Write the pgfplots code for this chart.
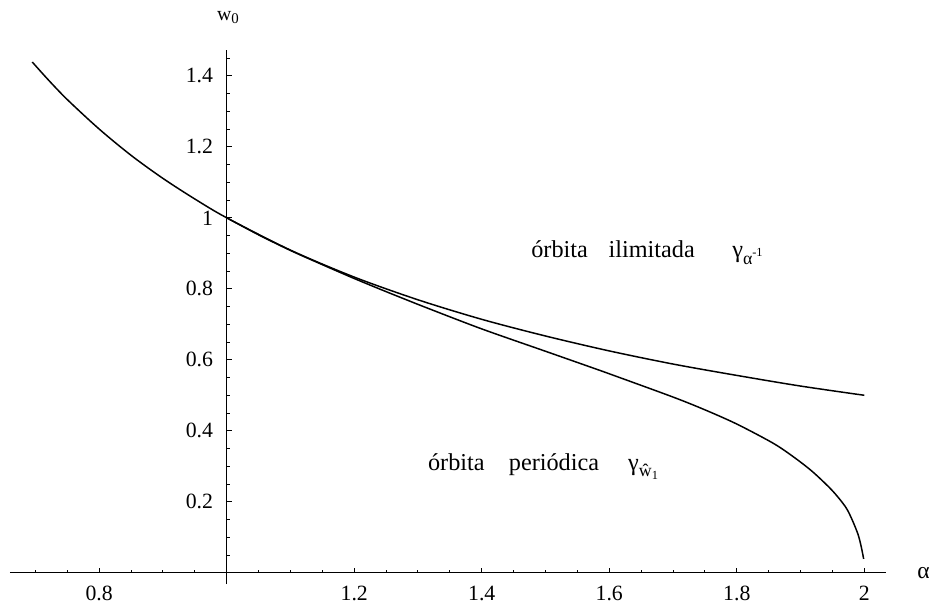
\documentclass[border=0pt]{standalone}
\usepackage{fontspec}
\setmainfont{Liberation Serif}
\usepackage{pgfplots}
\pgfplotsset{compat=1.18}

\begin{document}
\begin{tikzpicture}
\begin{axis}[
    scale only axis,
    width=354pt, height=216pt,
    xmin=0.660, xmax=2.034,
    ymin=-0.032, ymax=1.474,
    axis x line=middle,
    axis y line=left,
    axis y line shift=-87.6pt,
    axis line style={-, line width=0.45pt},
    xtick={0.8,1.2,1.4,1.6,1.8,2},
    minor xtick={0.7,0.75,0.85,0.9,0.95,1.05,1.1,1.15,1.25,1.3,1.35,1.45,1.5,1.55,1.65,1.7,1.75,1.85,1.9,1.95},
    ytick={0.2,0.4,0.6,0.8,1,1.2,1.4},
    minor ytick={0.05,0.1,0.15,0.25,0.3,0.35,0.45,0.5,0.55,0.65,0.7,0.75,0.85,0.9,0.95,1.05,1.1,1.15,1.25,1.3,1.35,1.45},
    xtick align=inside, ytick align=inside,
    major tick length=2pt, minor tick length=1.2pt,
    tick style={line width=0.4pt, black},
    /pgf/number format/assume math mode=true,
    tick label style={font=\fontsize{8.8}{10}\selectfont},
    xticklabel style={yshift=-2pt},
    yticklabel style={xshift=-2pt},
    clip=false,
]
% upper curve: orbita ilimitada
\addplot[black, line width=0.6pt, smooth] coordinates {
(0.695,1.439) (0.72,1.389) (0.75,1.333) (0.8,1.25) (0.85,1.176) (0.9,1.111)
(0.95,1.053) (1.0,1.0) (1.1,0.909) (1.2,0.833) (1.3,0.769) (1.4,0.714)
(1.5,0.667) (1.6,0.625) (1.7,0.588) (1.8,0.556) (1.9,0.526) (2.0,0.5)
};
% lower curve: orbita periodica
\addplot[black, line width=0.6pt, smooth] coordinates {
(1.0,1.0) (1.05,0.952) (1.1,0.908) (1.15,0.868) (1.2,0.829) (1.25,0.792)
(1.31,0.749) (1.4,0.687) (1.5,0.624) (1.576,0.576) (1.607,0.556) (1.7,0.495)
(1.75,0.459) (1.8,0.419) (1.856,0.366) (1.887,0.329) (1.918,0.286) (1.949,0.233)
(1.97,0.187) (1.98,0.153) (1.99,0.109) (1.995,0.075) (1.999,0.039)
};
\node[anchor=base west, inner sep=0pt, font=\fontsize{9.8}{11}\selectfont]
  at (axis cs:1.477,0.888)
  {órbita\hspace{0.85em}ilimitada\hspace{1.55em}γ\raisebox{-0.6ex}{\fontsize{7.2}{7}\selectfont α\raisebox{0.9ex}{\fontsize{5}{5}\selectfont -1}}};
\node[anchor=base west, inner sep=0pt, font=\fontsize{9.8}{11}\selectfont]
  at (axis cs:1.315,0.289)
  {órbita\hspace{1em}periódica\hspace{1.2em}γ\raisebox{-0.6ex}{\fontsize{7.2}{7}\selectfont ŵ\raisebox{-0.3ex}{\fontsize{5}{5}\selectfont 1}}};
\node[font=\fontsize{8}{9}\selectfont] at (axis cs:1.003,1.563) {w\textsubscript{0}};
\node[font=\fontsize{9.5}{10}\selectfont] at (axis cs:2.093,0) {α};
\coordinate (bl) at (axis cs:0.6444,-0.0823);
\coordinate (tr) at (axis cs:2.1009,1.6137);
\end{axis}
\path (bl) rectangle (tr);
\end{tikzpicture}
\end{document}
